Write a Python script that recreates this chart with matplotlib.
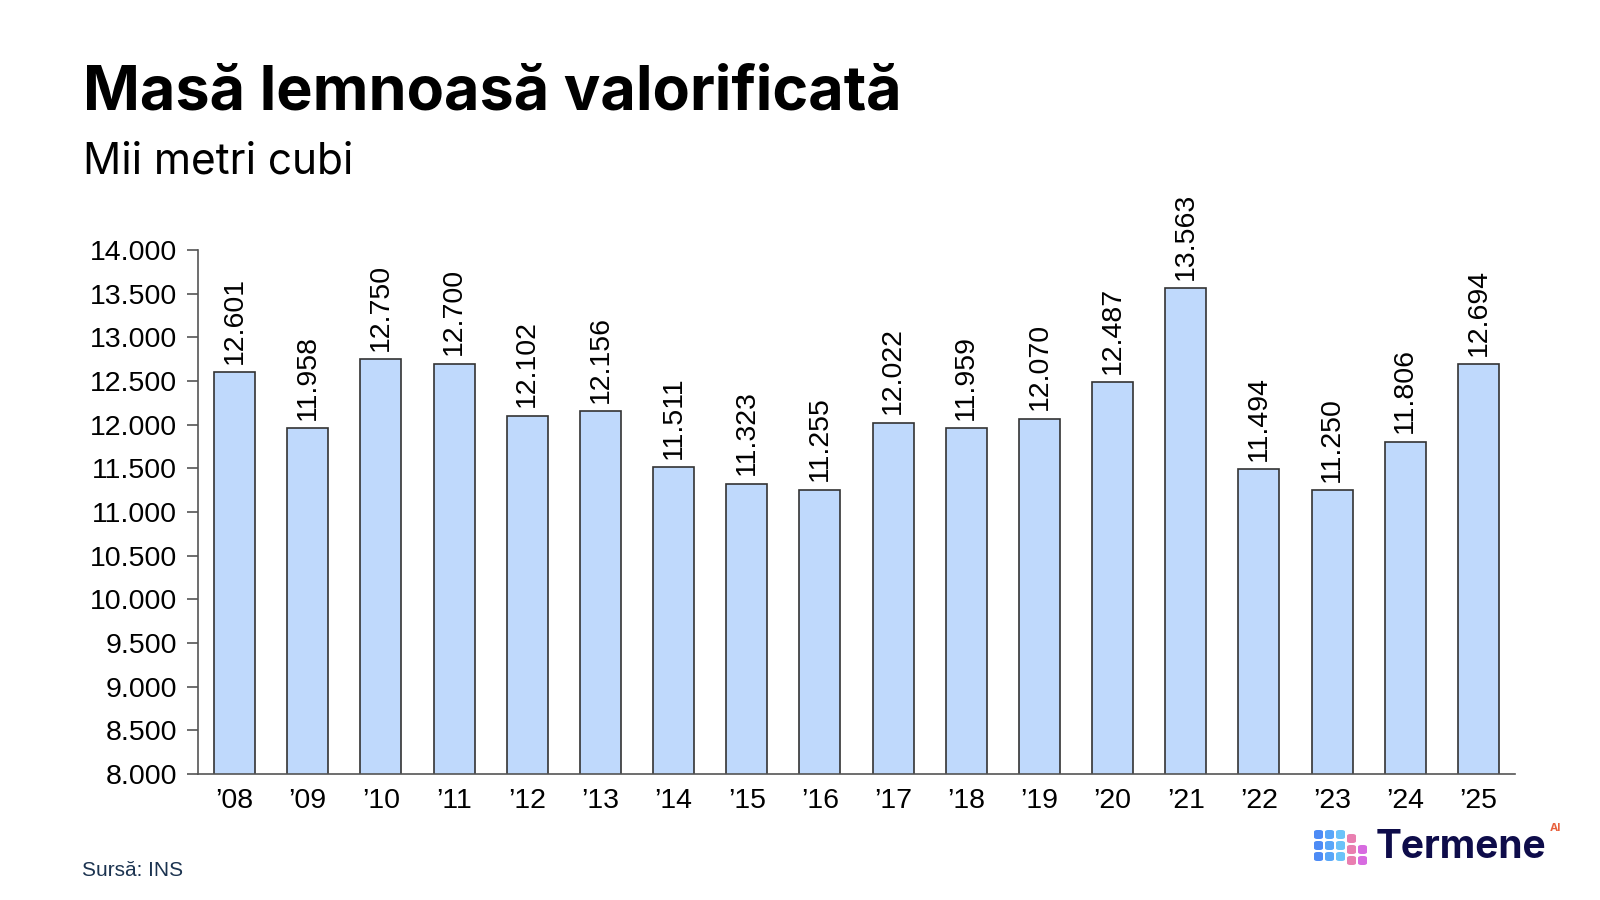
import matplotlib
matplotlib.use("Agg")
import matplotlib.pyplot as plt
from matplotlib.patches import FancyBboxPatch

plt.rcParams["font.family"] = ["Liberation Sans", "DejaVu Sans"]

years = ["’08", "’09", "’10", "’11", "’12", "’13", "’14", "’15", "’16",
         "’17", "’18", "’19", "’20", "’21", "’22", "’23", "’24", "’25"]
values = [12601, 11958, 12750, 12700, 12102, 12156, 11511, 11323, 11255,
          12022, 11959, 12070, 12487, 13563, 11494, 11250, 11806, 12694]
y_ticks = list(range(8000, 14001, 500))


def dotted(v):
    return f"{v:,}".replace(",", ".")


W, H = 1600, 900
fig = plt.figure(figsize=(16, 9), dpi=100)
fig.patch.set_facecolor("white")

# axes box in pixel coordinates (left, top, right, bottom)
L, T, R, B = 198, 250, 1515, 774
ax = fig.add_axes([L / W, 1 - B / H, (R - L) / W, (B - T) / H])

x = list(range(len(years)))
ax.bar(x, values, width=0.56, color="#BFD9FC", edgecolor="#333333",
       linewidth=1.2, zorder=2)
for xi, v in zip(x, values):
    ax.annotate(dotted(v), (xi, v), xytext=(0, 6), textcoords="offset points",
                rotation=90, ha="center", va="bottom", fontsize=20.5,
                color="black")

ax.set_xlim(-0.5, len(years) - 0.5)
ax.set_ylim(8000, 14000)
ax.set_yticks(y_ticks)
ax.set_yticklabels([dotted(t) for t in y_ticks])
ax.set_xticks(x)
ax.set_xticklabels(years)
ax.tick_params(axis="x", length=0, pad=10, labelsize=20.5)
ax.tick_params(axis="y", length=8, width=1.2, color="#555555", pad=7,
               direction="out", labelsize=20.5)
for side in ("top", "right"):
    ax.spines[side].set_visible(False)
for side in ("left", "bottom"):
    ax.spines[side].set_color("#555555")
    ax.spines[side].set_linewidth(1.2)

# titles
fig.text(83 / W, 1 - 110 / H, "Masă lemnoasă valorificată", fontsize=44,
         fontweight="bold", family="Inter", va="baseline", ha="left")
fig.text(83 / W, 1 - 173 / H, "Mii metri cubi", fontsize=30.5,
         family="Inter", va="baseline", ha="left")
fig.text(82 / W, 1 - 870 / H, "Sursă: INS", fontsize=15, color="#1B3350",
         va="center", ha="left")

# logo: small cube of tiles plus wordmark
tile_cols = ["#4D8BF5", "#59A6F8", "#6CC3F9", "#E97FB0", "#D76BE0"]
tile = 9
for c in range(5):
    for r in range(3):
        if c == 4 and r == 0:
            continue
        px = 1314 + c * (tile + 2)
        py = 830 + r * (tile + 2) + (4 if c >= 3 else 0)
        fig.patches.append(FancyBboxPatch(
            (px / W, 1 - (py + tile) / H), tile / W, tile / H,
            boxstyle="round,pad=0,rounding_size=0.002",
            transform=fig.transFigure, facecolor=tile_cols[c],
            edgecolor="none"))
fig.text(1376 / W, 1 - 847 / H, "Termene", fontsize=28, fontweight="bold",
         color="#0E0C4A", family="Inter", va="center", ha="left")
fig.text(1550 / W, 1 - 828 / H, "AI", fontsize=8, fontweight="bold",
         color="#E8603C", family="Inter", va="center", ha="left")

fig.savefig("out.png", dpi=100, facecolor="white")
